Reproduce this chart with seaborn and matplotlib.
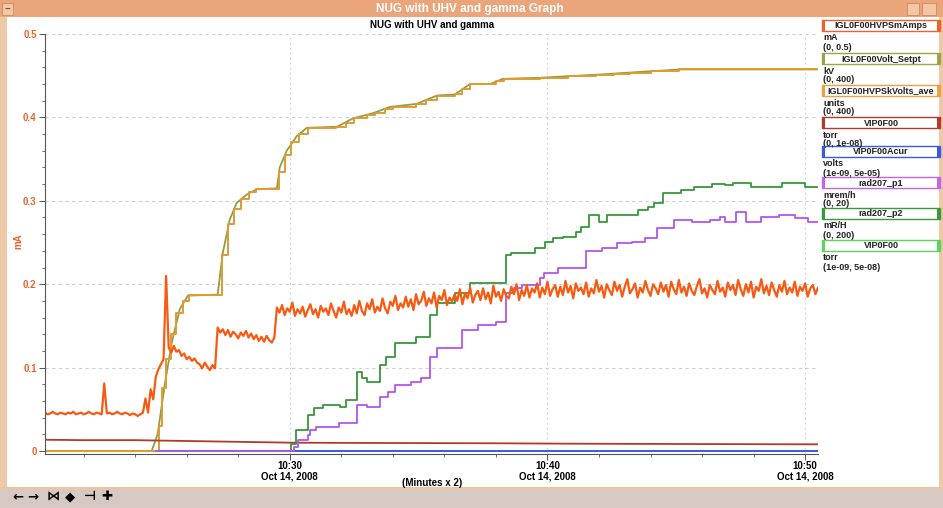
import numpy as np
import pandas as pd
import matplotlib
matplotlib.use("Agg")
import matplotlib.pyplot as plt
from matplotlib.patches import Rectangle
from matplotlib.ticker import FixedLocator, FuncFormatter, MultipleLocator
import seaborn as sns

# ---------------- data (minutes after 10:00, Oct 14 2008) ----------------
# IGL0F00HVPSmAmps, sampled every 0.1 min from 10:20.5, values in microamps
hv_start_min = 20.5
hv_step_min = 0.1
hv_current_uA = [
    46, 44, 45, 47, 45, 44, 46, 45, 44, 46,
    45, 47, 44, 45, 46, 44, 45, 47, 45, 44,
    46, 45, 44, 81, 45, 46, 44, 45, 47, 45,
    44, 46, 45, 43, 45, 44, 42, 44, 46, 63,
    46, 74, 62, 89, 98, 104, 110, 210, 124, 118,
    126, 119, 121, 114, 117, 110, 113, 108, 111, 106,
    104, 99, 106, 101, 97, 103, 99, 148, 142, 146,
    139, 145, 137, 143, 140, 135, 142, 138, 144, 136,
    141, 134, 139, 132, 137, 131, 138, 133, 130, 136,
    172, 166, 175, 163, 171, 167, 178, 162, 170, 165,
    173, 161, 169, 176, 164, 170, 160, 174, 167, 171,
    163, 177, 168, 160, 172, 166, 179, 164, 170, 162,
    175, 165, 180, 168, 163, 177, 170, 182, 166, 173,
    168, 183, 171, 165, 179, 174, 186, 169, 177, 172,
    185, 173, 182, 169, 188, 176, 180, 191, 174, 183,
    177, 190, 172, 186, 181, 193, 175, 184, 179, 188,
    180, 194, 176, 189, 183, 196, 178, 187, 192, 181,
    195, 182, 190, 177, 198, 185, 191, 180, 194, 186,
    183, 197, 188, 200, 181, 193, 186, 199, 184, 195,
    190, 201, 184, 196, 188, 203, 186, 194, 199, 185,
    197, 187, 204, 190, 198, 183, 201, 192, 196, 188,
    202, 185, 195, 189, 205, 191, 198, 184, 200, 193,
    187, 203, 192, 199, 185, 197, 206, 189, 194, 201,
    184, 196, 190, 204, 193, 186, 200, 195, 188, 202,
    191, 199, 185, 203, 194, 188, 205, 190, 197, 186,
    201, 192, 187, 198, 206, 189, 195, 184, 199, 193,
    188, 204, 191, 196, 185, 202, 193, 199, 187, 205,
    194, 186, 200, 190, 203, 184, 197, 192, 206, 189,
    198, 187, 202, 193, 185, 199, 191, 204, 188, 196,
    190, 203, 186, 197, 192, 201, 185, 195, 199, 188,
    196,
]

# IGL0F00Volt_Setpt (kV)
setpt_min = [20.5, 24.64, 24.87, 25.15, 25.42, 25.73, 26.04, 27.2, 27.4, 27.67,
             27.94, 28.33, 28.72, 29.5, 29.61, 29.88, 30.27, 30.66, 31.83, 32.45,
             33.22, 33.88, 34.93, 35.71, 36.41, 36.99, 37.77, 38.27, 39.71, 41.92,
             43.2, 45.15, 50.5]
setpt_kV = [0, 0, 16, 64, 104, 136, 149, 150, 190, 222,
            238, 246, 251, 252, 272, 288, 302, 310, 311, 319,
            324, 330, 333, 341, 342, 352, 352, 357, 358, 361,
            363, 366, 366]

# IGL0F00HVPSkVolts_ave (kV, stepped readback)
kvave_min = [20.5, 24.93, 25.05, 25.2, 25.4, 25.6, 25.85, 26.1, 27.35, 27.62,
             27.85, 28.1, 28.4, 28.7, 29.58, 29.8, 30.05, 30.35, 30.7, 31.8,
             32.2, 32.5, 33.0, 33.3, 33.7, 34.0, 34.9, 35.3, 35.7, 36.4,
             36.7, 37.0, 38.0, 38.3, 39.7, 40.8, 41.9, 42.6, 43.2, 44.0,
             45.1, 50.5]
kvave_kV = [0, 24, 60, 88, 112, 132, 144, 150, 188, 218,
            232, 242, 248, 251, 268, 284, 296, 304, 310, 311,
            315, 319, 322, 324, 328, 330, 333, 337, 341, 342,
            347, 352, 355, 357, 358, 359.5, 361, 362, 363, 364.5,
            366, 366]

# VIP0F00 (torr)
vip_min = [20.5, 22.0, 24.0, 25.0, 26.0, 28.0, 30.0, 32.0, 35.0, 38.0, 41.0, 44.0, 47.0, 50.5]
vip_torr = [2.7e-10, 2.6e-10, 2.6e-10, 2.5e-10, 2.4e-10, 2.2e-10, 2.0e-10, 1.95e-10,
            1.9e-10, 1.85e-10, 1.75e-10, 1.7e-10, 1.65e-10, 1.6e-10]

# VIP0F00Acur (volts)
acur_min = [20.5, 50.5]
acur_volts = [6e-8, 6e-8]

# VIP0F00 second gauge (torr)
vip2_min = [20.5, 50.5]
vip2_torr = [1e-9, 1e-9]

# rad207_p1 (mrem/h)
p1_min = [24.8, 30.0, 30.15, 30.3, 30.7, 30.8, 31.0, 31.9, 32.6, 33.0,
          33.5, 33.8, 34.1, 34.7, 35.1, 35.45, 35.7, 36.7, 37.3, 38.0,
          38.4, 38.7, 39.0, 39.7, 39.85, 40.4, 41.5, 42.1, 42.7, 43.3,
          43.8, 44.25, 44.9, 45.6, 46.3, 46.7, 46.9, 47.3, 47.7, 48.3,
          49.0, 49.6, 50.1, 50.5]
p1_mremh = [0, 0.0, 0.2, 0.52, 0.76, 1.0, 1.16, 1.32, 2.2, 2.12,
            2.6, 2.84, 3.16, 3.32, 3.48, 4.52, 4.92, 5.8, 6.04, 6.2,
            7.56, 7.84, 7.96, 8.28, 8.56, 8.8, 9.6, 9.72, 9.96, 10.0,
            10.2, 10.68, 11.08, 10.96, 11.08, 11.2, 10.96, 11.44, 10.96, 11.2,
            11.32, 11.16, 10.96, 10.96]

# rad207_p2 (mR/H)
p2_min = [24.8, 30.05, 30.25, 30.7, 30.95, 31.3, 31.95, 32.2, 32.6, 32.8,
          33.0, 33.5, 33.75, 34.1, 34.9, 35.45, 35.7, 36.4, 37.0, 38.4,
          38.6, 39.5, 39.9, 40.2, 40.6, 41.1, 41.3, 41.6, 42.0, 42.3,
          43.5, 43.9, 44.15, 44.5, 45.2, 45.7, 46.4, 46.9, 47.2, 47.9,
          49.1, 50.0, 50.5]
p2_mRH = [0, 3.2, 10, 17.2, 20.4, 22, 21.2, 24.4, 38, 34.8,
          33.2, 41.2, 45.2, 51.6, 54.8, 65.2, 70.8, 76, 80.8, 94,
          95.2, 97.6, 100, 102, 102.4, 104.8, 107.2, 113.2, 109.6, 113.2,
          115.6, 116.8, 118.8, 123.6, 125.2, 126.4, 128, 127.6, 128.4, 126.4,
          128.4, 126.4, 126.4]

x_major = [30, 40, 50]
x_labels = ["10:30\nOct 14, 2008", "10:40\nOct 14, 2008", "10:50\nOct 14, 2008"]
y_major = [0, 0.1, 0.2, 0.3, 0.4, 0.5]
y_labels = ["0", "0.1", "0.2", "0.3", "0.4", "0.5"]

legend_names = ["IGL0F00HVPSmAmps", "IGL0F00Volt_Setpt", "IGL0F00HVPSkVolts_ave", "VIP0F00",
                "VIP0F00Acur", "rad207_p1", "rad207_p2", "VIP0F00"]
legend_units = ["mA", "kV", "units", "torr", "volts", "mrem/h", "mR/H", "torr"]
legend_ranges = ["(0, 0.5)", "(0, 400)", "(0, 400)", "(0, 1e-08)",
                 "(1e-09, 5e-05)", "(0, 20)", "(0, 200)", "(1e-09, 5e-08)"]
legend_colors = ["#F2602A", "#9AA545", "#EFA040", "#B23A2A",
                 "#3A5BE0", "#C264F2", "#3A9A3A", "#5CD45C"]

# ---------------- figure ----------------
sns.set_theme(style="white")
plt.rcParams["font.family"] = ["Liberation Sans Narrow", "Liberation Sans", "DejaVu Sans"]
plt.rcParams["font.weight"] = "bold"

W, H = 943, 508
fig = plt.figure(figsize=(W / 100, H / 100), dpi=100)
fig.patch.set_facecolor("white")


def fx(px):
    return px / W


def fy(py):
    return 1 - py / H


def frect(x0, y0, x1, y1, **kw):
    fig.patches.append(Rectangle((fx(x0), fy(y1)), fx(x1) - fx(x0), (y1 - y0) / H,
                                 transform=fig.transFigure, **kw))


# window chrome
frect(0, 0, W, 17, facecolor="#EAA57A", edgecolor="none", zorder=0)
frect(2, 3, 13, 15, facecolor="#F3C7A6", edgecolor="#C98A60", lw=0.6, zorder=1)
frect(907, 3, 919, 15, facecolor="#F3C7A6", edgecolor="#C98A60", lw=0.6, zorder=1)
frect(922, 3, 936, 15, facecolor="#F3C7A6", edgecolor="#C98A60", lw=0.6, zorder=1)
fig.text(fx(7.5), fy(9), "−", ha="center", va="center", color="#8A5030", fontsize=7)
fig.text(fx(470), fy(9), "NUG with UHV and gamma Graph", ha="center", va="center",
         color="white", fontsize=8.5, fontweight="bold")
frect(0, 17, 7, 489, facecolor="#EEC9A8", edgecolor="none", zorder=0)
frect(939, 17, W, 489, facecolor="#EEC9A8", edgecolor="none", zorder=0)
frect(0, 487, W, 490, facecolor="#E8C4A8", edgecolor="none", zorder=0)
frect(0, 490, W, H, facecolor="#D6C8C2", edgecolor="none", zorder=0)
for xi, g in zip([18, 33, 53, 70, 90, 107], ["←", "→", "⋈", "◆", "⊣", "✚"]):
    fig.text(fx(xi), fy(497), g, ha="center", va="center", fontsize=9.5,
             fontweight="bold", color="black", family="DejaVu Sans")

ax = fig.add_axes([fx(45), fy(453.5), fx(818) - fx(45), (453.5 - 34) / H])
ax.set_facecolor("white")


def to_axis(vals, lo, hi):
    return (np.asarray(vals, dtype=float) - lo) / (hi - lo) * 0.5


hv_min = np.round(hv_start_min + hv_step_min * np.arange(len(hv_current_uA)), 2)
series = [
    ("vip2", vip2_min, to_axis(vip2_torr, 1e-9, 5e-8), legend_colors[7], 1.2, "default"),
    ("acur", acur_min, to_axis(acur_volts, 1e-9, 5e-5), legend_colors[4], 1.4, "default"),
    ("setpt", setpt_min, to_axis(setpt_kV, 0, 400), "#8E9E48", 1.3, "default"),
    ("kvave", kvave_min, to_axis(kvave_kV, 0, 400), "#E29A30", 1.4, "steps-post"),
    ("vip", vip_min, to_axis(vip_torr, 0, 1e-8), legend_colors[3], 1.3, "default"),
    ("p2", p2_min, to_axis(p2_mRH, 0, 200), "#36963A", 1.3, "steps-post"),
    ("p1", p1_min, to_axis(p1_mremh, 0, 20), "#B455EE", 1.3, "steps-post"),
    ("hv", hv_min, to_axis(np.array(hv_current_uA) / 1000.0, 0, 0.5), "#F85A12", 1.6, "default"),
]
for name, t, v, col, lw, ds in series:
    df = pd.DataFrame({"minute": t, "value": v})
    sns.lineplot(data=df, x="minute", y="value", ax=ax, color=col, lw=lw,
                 drawstyle=ds, estimator=None, sort=False, legend=False)

ax.set_xlim(20.5, 50.5)
ax.set_ylim(-0.003, 0.5)

# grid
for yv in y_major[1:]:
    ax.axhline(yv, color="#CFCFCF", lw=0.8, ls=(0, (3, 3)), zorder=0)
for xv in x_major:
    ax.axvline(xv, color="#CFCFCF", lw=0.8, ls=(0, (1.5, 3)), zorder=0)

for s in ["top", "right"]:
    ax.spines[s].set_visible(False)
for s in ["left", "bottom"]:
    ax.spines[s].set_color("#555555")
    ax.spines[s].set_linewidth(0.8)

ax.set_xticks(x_major)
ax.set_xticklabels(x_labels, linespacing=1.05, fontweight="bold", fontsize=7)
ax.xaxis.set_minor_locator(MultipleLocator(2))
ax.set_yticks(y_major)
ax.set_yticklabels(y_labels, fontweight="bold", fontsize=7)
ax.yaxis.set_minor_locator(MultipleLocator(0.02))

ax.tick_params(axis="both", which="major", length=4, width=0.7, color="#555555", direction="out")
ax.tick_params(axis="both", which="minor", length=2.5, width=0.6, color="#555555", direction="out")
ax.tick_params(axis="x", which="both", bottom=True, pad=1.5, labelcolor="black")
ax.tick_params(axis="y", which="both", left=True, pad=2, labelcolor="#E8652A")

ax.set_xlabel("")
ax.set_ylabel("")
fig.text(fx(432), fy(483), "(Minutes x 2)", ha="center", va="center",
         fontsize=7, fontweight="bold", color="black")
fig.text(fx(18), fy(241), "mA", rotation=90, ha="center", va="center",
         color="#E8652A", fontsize=7, fontweight="bold")
fig.text(fx(432), fy(25), "NUG with UHV and gamma", ha="center", va="center",
         fontsize=7, fontweight="bold", color="black")

# custom legend
box_tops = [20, 53, 85, 117, 146, 177, 208, 240]
bx0, bx1, bh = 822, 940, 11
for top, name, unit, rng, col in zip(box_tops, legend_names, legend_units, legend_ranges, legend_colors):
    frect(bx0, top, bx1, top + bh, facecolor="white", edgecolor=col, lw=1.0, zorder=3)
    frect(bx0, top, bx0 + 3, top + bh, facecolor=col, edgecolor="none", zorder=4)
    frect(bx1 - 3, top, bx1, top + bh, facecolor=col, edgecolor="none", zorder=4)
    fig.text(fx((bx0 + bx1) / 2), fy(top + bh / 2 + 0.5), name, ha="center", va="center",
             fontsize=6.5, fontweight="bold", color="#222222", zorder=5)
    fig.text(fx(823), fy(top + bh + 7), unit, ha="left", va="center",
             fontsize=6.5, fontweight="bold", color="#222222")
    fig.text(fx(823), fy(top + bh + 16), rng, ha="left", va="center",
             fontsize=6.5, fontweight="bold", color="#222222")

fig.savefig("out.png", dpi=100)
